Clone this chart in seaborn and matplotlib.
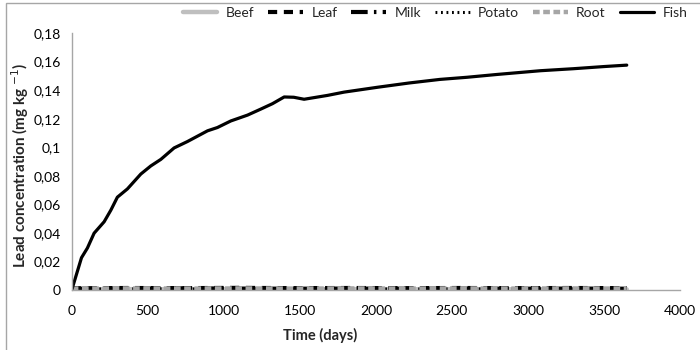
import matplotlib
matplotlib.use("Agg")
import matplotlib.pyplot as plt
from matplotlib.patches import Rectangle
from matplotlib.ticker import FixedLocator, FixedFormatter
import pandas as pd
import seaborn as sns

# Fish tissue concentration over time (days, mg/kg)
fish_days = [0, 64, 103, 147, 213, 257, 300, 366, 454, 520, 586, 673, 761,
             893, 958, 1046, 1156, 1243, 1320, 1397, 1460, 1528, 1682, 1791,
             2011, 2219, 2421, 2600, 2800, 3084, 3300, 3500, 3650]
fish_vals = [0.0, 0.0226, 0.0294, 0.0398, 0.0478, 0.0559, 0.065, 0.0708,
             0.0812, 0.0869, 0.0915, 0.0995, 0.104, 0.1115, 0.1138, 0.1184,
             0.1225, 0.1267, 0.1305, 0.1352, 0.1350, 0.1336, 0.1363, 0.1386,
             0.142, 0.145, 0.1475, 0.149, 0.151, 0.1536, 0.155, 0.1565, 0.1575]

# Other pathways stay close to zero over the whole period
low_days = [0, 365, 730, 1095, 1460, 1825, 2190, 2555, 2920, 3285, 3650]
beef_vals = [0.0005, 0.0006, 0.0005, 0.0006, 0.0005, 0.0006, 0.0005, 0.0006, 0.0005, 0.0006, 0.0005]
leaf_vals = [0.0012, 0.0014, 0.0013, 0.0015, 0.0013, 0.0014, 0.0013, 0.0014, 0.0013, 0.0014, 0.0013]
milk_vals = [0.0009, 0.0010, 0.0012, 0.0010, 0.0009, 0.0010, 0.0009, 0.0010, 0.0009, 0.0010, 0.0009]
potato_vals = [0.0007, 0.0008, 0.0007, 0.0008, 0.0007, 0.0008, 0.0007, 0.0008, 0.0007, 0.0008, 0.0007]
root_vals = [0.0010, 0.0011, 0.0010, 0.0011, 0.0010, 0.0011, 0.0010, 0.0011, 0.0010, 0.0011, 0.0010]

x_ticks = [0, 500, 1000, 1500, 2000, 2500, 3000, 3500, 4000]
y_ticks = [0, 0.02, 0.04, 0.06, 0.08, 0.1, 0.12, 0.14, 0.16, 0.18]
y_tick_labels = ["0", "0,02", "0,04", "0,06", "0,08", "0,1", "0,12", "0,14", "0,16", "0,18"]

sns.set_style("white")
plt.rcParams["font.family"] = ["Lato", "DejaVu Sans"]

fig = plt.figure(figsize=(7, 3.5), dpi=100)
ax = fig.add_axes([0.1025, 0.1714, 0.8689, 0.7343])

series = [
    ("Beef", low_days, beef_vals, dict(color="#BFBFBF", linestyle="-", linewidth=3.2)),
    ("Leaf", low_days, leaf_vals, dict(color="black", linestyle=(0, (2.2, 1.6)), linewidth=3.0)),
    ("Milk", low_days, milk_vals, dict(color="black", linestyle=(0, (4, 1.5, 0.6, 1.5)), linewidth=3.0)),
    ("Potato", low_days, potato_vals, dict(color="black", linestyle=(0, (0.6, 1.2)), linewidth=2.2)),
    ("Root", low_days, root_vals, dict(color="#A6A6A6", linestyle=(0, (1.5, 0.8)), linewidth=3.2)),
    ("Fish", fish_days, fish_vals, dict(color="black", linestyle="-", linewidth=2.3)),
]

for name, xs, ys, style in series:
    df = pd.DataFrame({"day": xs, "conc": ys})
    sns.lineplot(data=df, x="day", y="conc", ax=ax, label=name, **style)

ax.set_xlim(0, 4000)
ax.set_ylim(0, 0.18)
ax.xaxis.set_major_locator(FixedLocator(x_ticks))
ax.yaxis.set_major_locator(FixedLocator(y_ticks))
ax.yaxis.set_major_formatter(FixedFormatter(y_tick_labels))
ax.tick_params(axis="both", length=0, labelsize=10, colors="black")
ax.tick_params(axis="x", pad=11)
ax.tick_params(axis="y", pad=8)

for side in ("top", "right"):
    ax.spines[side].set_visible(False)
for side in ("left", "bottom"):
    ax.spines[side].set_color("#A6A6A6")
    ax.spines[side].set_linewidth(1.0)

ax.set_xlabel("Time (days)", fontsize=10.5, fontweight="bold")
ax.xaxis.set_label_coords(320 / 700, 1 - 328 / 350, transform=fig.transFigure)
ax.set_ylabel(r"Lead concentration (mg kg $^{-1}$)", fontsize=11, fontweight="bold")
ax.yaxis.set_label_coords(31 / 700, 1 - 165 / 350, transform=fig.transFigure)

leg = ax.legend(loc="center right", bbox_to_anchor=(1.0, 1 - 13 / 350), bbox_transform=fig.transFigure,
                ncol=6, frameon=False, fontsize=10, handlelength=2.5, columnspacing=1.0,
                handletextpad=0.6)

# chart-area border
fig.patches.append(Rectangle((6 / 700, -0.05), 1.2, 1 - 3 / 350 + 0.05, transform=fig.transFigure,
                             fill=False, edgecolor="#A6A6A6", linewidth=1.0))

fig.savefig("out.png", dpi=100)
